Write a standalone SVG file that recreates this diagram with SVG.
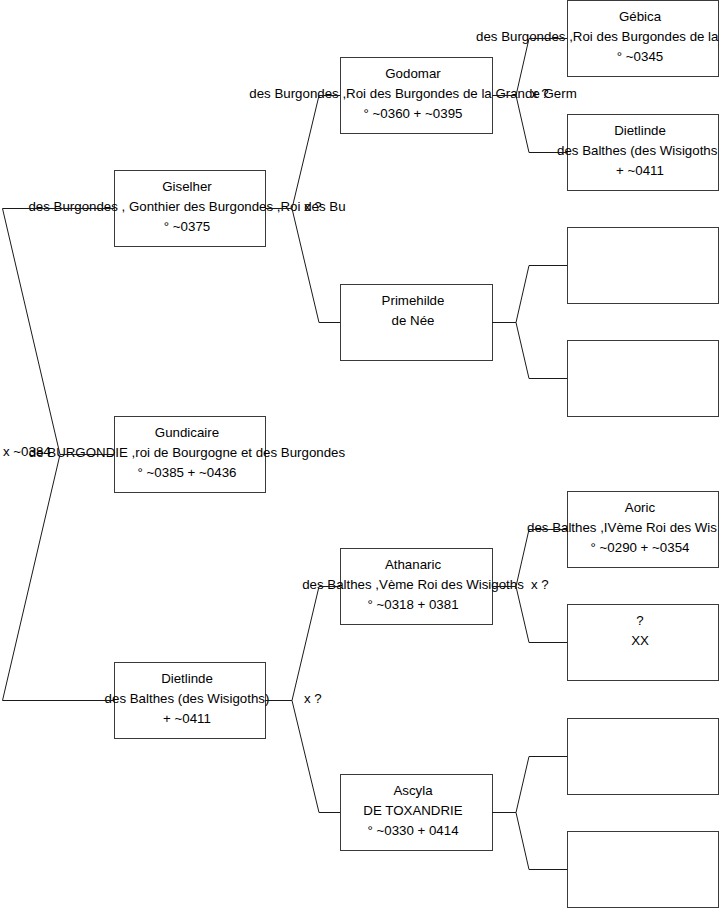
<svg xmlns="http://www.w3.org/2000/svg" width="719" height="908" viewBox="0 0 719 908">
<style>
rect.b{fill:#fff;stroke:#3a3a3a;stroke-width:1}
text{font-family:"Liberation Sans",Arial,sans-serif;font-size:13.3px;fill:#000}
text.c{text-anchor:middle}
.con path{fill:none;stroke:#1a1a1a;stroke-width:1}
</style>
<rect width="719" height="908" fill="#fff"/>
<g id="n-giselher"><rect class="b" x="114.5" y="170.5" width="151" height="76"/>
<text class="c" x="187" y="190.5">Giselher</text><text class="c" x="187" y="211">des Burgondes , Gonthier des Burgondes ,Roi des Bu</text><text class="c" x="187" y="231">° ~0375</text></g>
<g id="n-gundicaire"><rect class="b" x="114.5" y="416.5" width="151" height="76"/>
<text class="c" x="187" y="436.5">Gundicaire</text><text class="c" x="187" y="457">de BURGONDIE ,roi de Bourgogne et des Burgondes</text><text class="c" x="187" y="477">° ~0385 + ~0436</text></g>
<g id="n-dietlinde1"><rect class="b" x="114.5" y="662.5" width="151" height="76"/>
<text class="c" x="187" y="682.5">Dietlinde</text><text class="c" x="187" y="703">des Balthes (des Wisigoths)</text><text class="c" x="187" y="723">+ ~0411</text></g>
<g id="n-godomar"><rect class="b" x="340.5" y="57.5" width="152" height="76"/>
<text class="c" x="413" y="77.5">Godomar</text><text class="c" x="413" y="98">des Burgondes ,Roi des Burgondes de la Grande Germ</text><text class="c" x="413" y="118">° ~0360 + ~0395</text></g>
<g id="n-primehilde"><rect class="b" x="340.5" y="284.5" width="152" height="76"/>
<text class="c" x="413" y="304.5">Primehilde</text><text class="c" x="413" y="325">de Née</text></g>
<g id="n-athanaric"><rect class="b" x="340.5" y="548.5" width="152" height="76"/>
<text class="c" x="413" y="568.5">Athanaric</text><text class="c" x="413" y="589">des Balthes ,Vème Roi des Wisigoths</text><text class="c" x="413" y="609">° ~0318 + 0381</text></g>
<g id="n-ascyla"><rect class="b" x="340.5" y="774.5" width="152" height="76"/>
<text class="c" x="413" y="794.5">Ascyla</text><text class="c" x="413" y="815">DE TOXANDRIE</text><text class="c" x="413" y="835">° ~0330 + 0414</text></g>
<g id="n-gebica"><rect class="b" x="567.5" y="0.5" width="151" height="76"/>
<text class="c" x="640" y="20.5">Gébica</text><text x="476" y="41">des Burgondes ,Roi des Burgondes de la</text><text class="c" x="640" y="61">° ~0345</text></g>
<g id="n-dietlinde2"><rect class="b" x="567.5" y="114.5" width="151" height="76"/>
<text class="c" x="640" y="134.5">Dietlinde</text><text x="557" y="155">des Balthes (des Wisigoths</text><text class="c" x="640" y="175">+ ~0411</text></g>
<g id="n-empty1"><rect class="b" x="567.5" y="227.5" width="151" height="76"/></g>
<g id="n-empty2"><rect class="b" x="567.5" y="340.5" width="151" height="76"/></g>
<g id="n-aoric"><rect class="b" x="567.5" y="491.5" width="151" height="76"/>
<text class="c" x="640" y="511.5">Aoric</text><text x="527" y="532">des Balthes ,IVème Roi des Wis</text><text class="c" x="640" y="552">° ~0290 + ~0354</text></g>
<g id="n-unknown"><rect class="b" x="567.5" y="604.5" width="151" height="76"/>
<text class="c" x="640" y="624.5">?</text><text class="c" x="640" y="645">XX</text></g>
<g id="n-empty3"><rect class="b" x="567.5" y="718.5" width="151" height="76"/></g>
<g id="n-empty4"><rect class="b" x="567.5" y="831.5" width="151" height="76"/></g>
<g id="connectors" class="con">
<path d="M114,208.5 H2.5 L60,454.5 L2.5,700.5 H114 M60,454.5 H114"/>
<path d="M265,208.5 H292 L319,95.5 H340 M292,208.5 L319,322.5 H340"/>
<path d="M265,700.5 H292 L319,586.5 H340 M292,700.5 L319,812.5 H340"/>
<path d="M492,95.5 H516 L529,38.5 H567 M516,95.5 L529,152.5 H567"/>
<path d="M492,322.5 H516 L529,265.5 H567 M516,322.5 L529,378.5 H567"/>
<path d="M492,586.5 H516 L529,529.5 H567 M516,586.5 L529,642.5 H567"/>
<path d="M492,812.5 H516 L529,756.5 H567 M516,812.5 L529,869.5 H567"/>
<text x="3" y="456">x ~0384</text>
<text x="304" y="211">x ?</text>
<text x="304" y="703">x ?</text>
<text x="531" y="98">x ?</text>
<text x="531" y="589">x ?</text>
</g>
</svg>
